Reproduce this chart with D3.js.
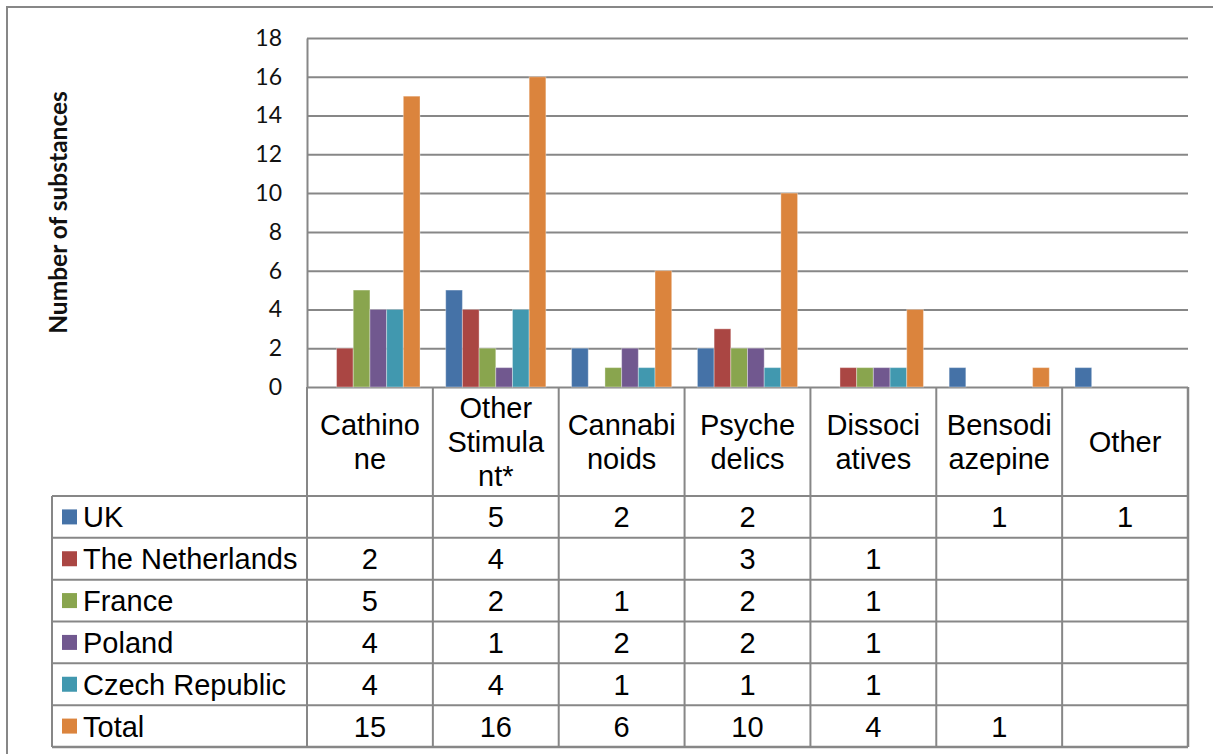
<!DOCTYPE html>
<html>
<head>
<meta charset="utf-8">
<script src="https://cdn.jsdelivr.net/npm/d3@7"></script>
<style>
  body { margin: 0; background: #fff; }
  svg { display: block; }
  .tbl { font-family: "Liberation Sans", Arial, Helvetica, sans-serif; }
  .cal { font-family: Lato, "Open Sans", sans-serif; }
</style>
</head>
<body>
<div id="chart"></div>
<script>
// data
const categories = ["Cathinone", "Other Stimulant*", "Cannabinoids", "Psychedelics", "Dissociatives", "Bensodiazepine", "Other"];
const headerLines = [["Cathino", "ne"], ["Other", "Stimula", "nt*"], ["Cannabi", "noids"], ["Psyche", "delics"], ["Dissoci", "atives"], ["Bensodi", "azepine"], ["Other"]];
const seriesNames = ["UK", "The Netherlands", "France", "Poland", "Czech Republic", "Total"];
const ukValues = [null, 5, 2, 2, null, 1, 1];
const netherlandsValues = [2, 4, null, 3, 1, null, null];
const franceValues = [5, 2, 1, 2, 1, null, null];
const polandValues = [4, 1, 2, 2, 1, null, null];
const czechValues = [4, 4, 1, 1, 1, null, null];
const totalValues = [15, 16, 6, 10, 4, 1, null];
const yTicks = [0, 2, 4, 6, 8, 10, 12, 14, 16, 18];
const colors = ["#4572A7", "#AA4643", "#89A54E", "#71588F", "#4198AF", "#DB843D"];

const series = [ukValues, netherlandsValues, franceValues, polandValues, czechValues, totalValues]
  .map((vals, i) => ({ name: seriesNames[i], color: colors[i], values: vals }));

const W = 1213, H = 754;
const plotL = 307, plotR = 1188, plotT = 38, plotB = 387;
const tableL = 52, headerB = 496, tableB = 747;
const lineCol = "#878787";

const svg = d3.select("#chart").append("svg").attr("width", W).attr("height", H);

// chart outer border (right and bottom run off the picture)
svg.append("rect")
  .attr("x", 7).attr("y", 7).attr("width", W + 20).attr("height", H + 20)
  .attr("fill", "#fff").attr("stroke", lineCol).attr("stroke-width", 2);

const y = d3.scaleLinear().domain([0, 18]).range([plotB, plotT]);
const x0 = d3.scaleBand().domain(categories).range([plotL, plotR]);
const x1 = d3.scaleBand().domain(seriesNames).range([0, x0.bandwidth()]).paddingOuter(0.77);

// y axis with gridlines
const yAxis = svg.append("g")
  .attr("transform", `translate(${plotL},0)`)
  .call(d3.axisLeft(y).tickValues(yTicks).tickSize(-(plotR - plotL)).tickSizeOuter(0).tickPadding(25));
yAxis.selectAll("line").attr("stroke", lineCol).attr("stroke-width", 2);
yAxis.select(".domain").attr("stroke", lineCol).attr("stroke-width", 2);
yAxis.attr("font-family", null);
yAxis.selectAll("text")
  .attr("class", "cal")
  .attr("font-size", 23)
  .attr("fill", "#111");

// y title
svg.append("text")
  .attr("class", "cal")
  .attr("transform", `translate(67,${(plotT + plotB) / 2}) rotate(-90)`)
  .attr("text-anchor", "middle")
  .attr("font-weight", "bold")
  .attr("font-size", 24.5)
  .attr("fill", "#111")
  .text("Number of substances");

// bars
const groups = svg.append("g").selectAll("g")
  .data(series)
  .join("g")
  .attr("fill", (d) => d.color);

groups.selectAll("rect")
  .data((s) => s.values.map((v, i) => ({ name: s.name, cat: categories[i], v })).filter((d) => d.v != null))
  .join("rect")
  .attr("x", (d) => x0(d.cat) + x1(d.name))
  .attr("y", (d) => y(d.v))
  .attr("width", x1.bandwidth())
  .attr("height", (d) => y(0) - y(d.v))
  .attr("stroke", "rgba(255,255,255,0.35)")
  .attr("stroke-width", 1);

// data table
const rows = d3.scaleBand().domain(seriesNames).range([headerB, tableB]);
const table = svg.append("g").attr("class", "tbl");

// horizontal lines
table.selectAll("line.h")
  .data(seriesNames)
  .join("line")
  .attr("class", "h")
  .attr("x1", tableL).attr("x2", plotR)
  .attr("y1", (d) => rows(d)).attr("y2", (d) => rows(d))
  .attr("stroke", lineCol).attr("stroke-width", 2);
table.append("line")
  .attr("x1", tableL).attr("x2", plotR)
  .attr("y1", tableB).attr("y2", tableB)
  .attr("stroke", lineCol).attr("stroke-width", 2.5);

// vertical lines
table.append("line")
  .attr("x1", tableL).attr("x2", tableL)
  .attr("y1", headerB).attr("y2", tableB)
  .attr("stroke", lineCol).attr("stroke-width", 2);
table.selectAll("line.v")
  .data([plotL].concat(categories.map((c) => x0(c) + x0.bandwidth())))
  .join("line")
  .attr("class", "v")
  .attr("x1", (d) => d).attr("x2", (d) => d)
  .attr("y1", plotB).attr("y2", tableB)
  .attr("stroke", lineCol).attr("stroke-width", (d, i) => (i === categories.length ? 2.5 : 2));

const tableSize = 29;
const lineH = 34;

// category headers
table.selectAll("text.hdr")
  .data(categories)
  .join("text")
  .attr("class", "hdr")
  .attr("text-anchor", "middle")
  .attr("font-size", tableSize)
  .attr("fill", "#000")
  .each(function (c, i) {
    const lines = headerLines[i];
    const cx = x0(c) + x0.bandwidth() / 2;
    const cy = (plotB + headerB) / 2;
    const start = cy - ((lines.length - 1) * lineH) / 2;
    d3.select(this).selectAll("tspan")
      .data(lines)
      .join("tspan")
      .attr("x", cx)
      .attr("y", (l, k) => start + k * lineH + tableSize * 0.36)
      .text((l) => l);
  });

// legend keys and row labels
const rowG = table.selectAll("g.row")
  .data(series)
  .join("g")
  .attr("class", "row")
  .attr("transform", (d) => `translate(0,${rows(d.name) + rows.bandwidth() / 2})`);

rowG.append("rect")
  .attr("x", 62).attr("y", -7.5)
  .attr("width", 15).attr("height", 15)
  .attr("fill", (d) => d.color);

rowG.append("text")
  .attr("x", 83)
  .attr("y", tableSize * 0.36)
  .attr("font-size", tableSize)
  .attr("fill", "#000")
  .text((d) => d.name);

rowG.selectAll("text.val")
  .data((s) => s.values.map((v, i) => ({ cat: categories[i], v })).filter((d) => d.v != null))
  .join("text")
  .attr("class", "val")
  .attr("x", (d) => x0(d.cat) + x0.bandwidth() / 2)
  .attr("y", tableSize * 0.36)
  .attr("text-anchor", "middle")
  .attr("font-size", tableSize)
  .attr("fill", "#000")
  .text((d) => d.v);
</script>
</body>
</html>
